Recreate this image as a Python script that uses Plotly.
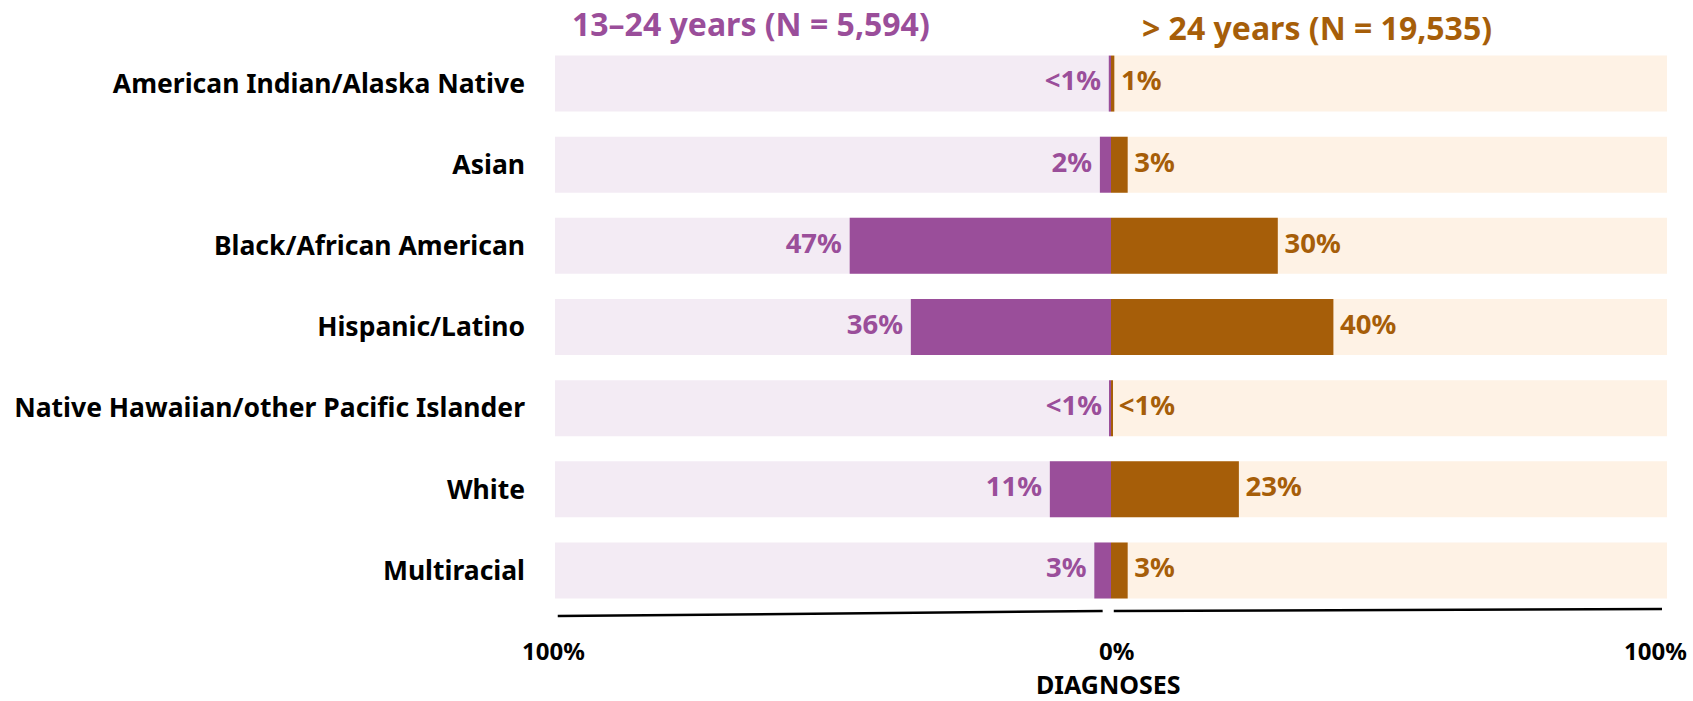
import plotly.graph_objects as go

# 인종/민족별 HIV 진단 비율 (연령대별)
categories = [
    "American Indian/Alaska Native",
    "Asian",
    "Black/African American",
    "Hispanic/Latino",
    "Native Hawaiian/other Pacific Islander",
    "White",
    "Multiracial",
]
young_pct = [0.4, 2, 47, 36, 0.2, 11, 3]
young_lbl = ["<1%", "2%", "47%", "36%", "<1%", "11%", "3%"]
older_pct = [0.6, 3, 30, 40, 0.2, 23, 3]
older_lbl = ["1%", "3%", "30%", "40%", "<1%", "23%", "3%"]

axis_vals = [-100, 0, 100]
axis_lbl = ["100%", "0%", "100%"]

young_title = "13\u201324 years (N = 5,594)"
older_title = "> 24 years (N = 19,535)"

PURPLE = "#9A4E9A"
PURPLE_LT = "#F3EBF4"
BROWN = "#A65E09"
BROWN_LT = "#FEF2E5"
FONT = "Noto Sans"
BOLD = "bold"

fig = go.Figure()

# 배경 막대 (100%)
fig.add_trace(go.Bar(y=categories, x=[-100] * len(categories), orientation="h",
                     marker=dict(color=PURPLE_LT, line=dict(width=0)),
                     width=0.69, hoverinfo="skip"))
fig.add_trace(go.Bar(y=categories, x=[100] * len(categories), orientation="h",
                     marker=dict(color=BROWN_LT, line=dict(width=0)),
                     width=0.69, hoverinfo="skip"))

# 실제 값 막대
fig.add_trace(go.Bar(y=categories, x=[-v for v in young_pct], orientation="h",
                     marker=dict(color=PURPLE, line=dict(width=0)),
                     width=0.69, name=young_title))
fig.add_trace(go.Bar(y=categories, x=older_pct, orientation="h",
                     marker=dict(color=BROWN, line=dict(width=0)),
                     width=0.69, name=older_title))

# 값 라벨
fig.add_trace(go.Scatter(y=categories, x=[-v - 1.4 for v in young_pct], mode="text",
                         text=young_lbl, textposition="middle left",
                         textfont=dict(family=FONT, size=27.5, color=PURPLE, weight=BOLD),
                         hoverinfo="skip"))
fig.add_trace(go.Scatter(y=categories, x=[v + 1.2 for v in older_pct], mode="text",
                         text=older_lbl, textposition="middle right",
                         textfont=dict(family=FONT, size=27.5, color=BROWN, weight=BOLD),
                         hoverinfo="skip"))

# 그룹 제목
fig.add_annotation(x=-64.7, y=1.035, xref="x", yref="paper", text=young_title,
                   showarrow=False, yanchor="middle", borderpad=0,
                   font=dict(family=FONT, size=32, color=PURPLE, weight=BOLD))
fig.add_annotation(x=37.0, y=1.028, xref="x", yref="paper", text=older_title,
                   showarrow=False, yanchor="middle", borderpad=0,
                   font=dict(family=FONT, size=32, color=BROWN, weight=BOLD))

# x축 눈금 라벨과 제목
for v, t, dx in zip(axis_vals, axis_lbl, [-2, 5, -12]):
    fig.add_annotation(x=v, y=-0.0704, xref="x", yref="paper", text=t, xshift=dx,
                       showarrow=False, yanchor="middle", borderpad=0,
                       font=dict(family=FONT, size=24, color="black", weight=BOLD))
fig.add_annotation(x=0, y=-0.1285, xref="x", yref="paper", text="DIAGNOSES", xshift=-3,
                   showarrow=False, yanchor="middle", borderpad=0,
                   font=dict(family=FONT, size=25, color="black", weight=BOLD))

# 하단 축선 (약간 기울어진 원본 모양)
fig.add_shape(type="line", xref="x", yref="paper", x0=-99.5, x1=-1.5, y0=-0.009, y1=0.0,
              line=dict(color="black", width=2.5))
fig.add_shape(type="line", xref="x", yref="paper", x0=0.5, x1=99.1, y0=0.0, y1=0.0035,
              line=dict(color="black", width=2.5))

fig.update_layout(
    width=1693, height=701,
    barmode="overlay",
    bargap=0.31,
    showlegend=False,
    plot_bgcolor="white",
    paper_bgcolor="white",
    margin=dict(l=555, r=26, t=43, b=90),
    font=dict(family=FONT, color="black"),
    xaxis=dict(range=[-100, 100], showticklabels=False, showgrid=False,
               zeroline=False, showline=False, ticks="", automargin=False),
    yaxis=dict(categoryorder="array", categoryarray=categories[::-1],
               showgrid=False, zeroline=False, showline=False, ticks="",
               ticklabelstandoff=29, automargin=False,
               tickfont=dict(family=FONT, size=26.5, color="black", weight=BOLD)),
)

# 브라우저 기본 body 여백 제거, 모드바 숨김
fig.write_html("out.html", config={"displayModeBar": False},
               post_script="document.body.style.margin = '0';")
